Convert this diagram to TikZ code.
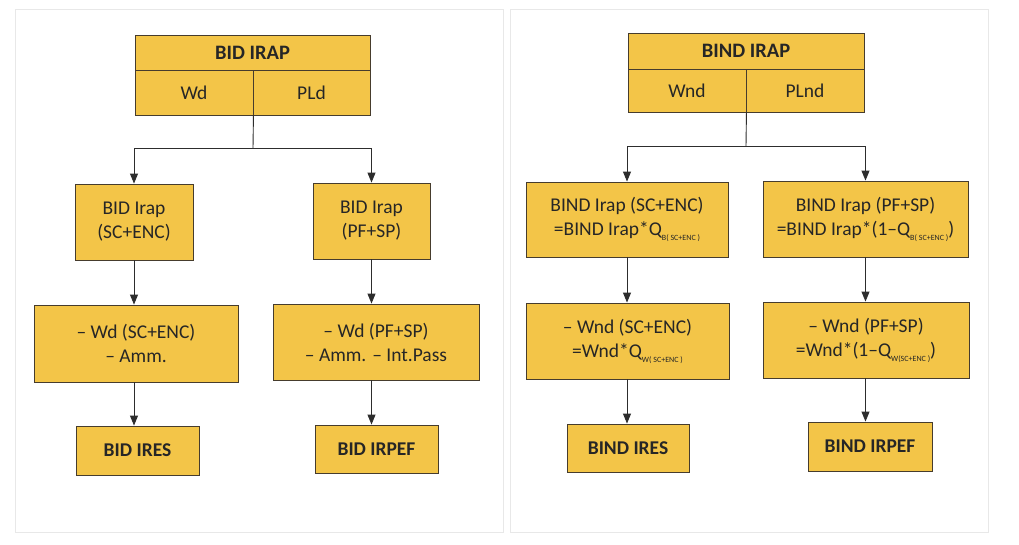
\documentclass[tikz,border=0pt]{standalone}
\usepackage{fontspec}
\setmainfont{Carlito}
\usetikzlibrary{arrows.meta}
\definecolor{boxfill}{RGB}{243,197,72}
\definecolor{boxline}{RGB}{70,60,45}
\definecolor{linec}{RGB}{45,45,45}
\definecolor{panel}{RGB}{232,232,232}
\newcommand{\subq}[1]{\raisebox{-5pt}{\fontsize{8}{8}\selectfont #1}}
\tikzset{
  bx/.style={draw=boxline, fill=boxfill, line width=0.9pt, align=center, inner sep=0pt,
    font=\fontsize{19.5}{24}\selectfont, text=black!85},
  arr/.style={draw=linec, line width=0.9pt, -{Triangle[width=8pt,length=10pt]}},
  ln/.style={draw=linec, line width=0.9pt},
}
\newcommand{\bxn}[6]{% name, x1,y1,x2,y2, text
  \node[bx, minimum width={(#4)-(#2)}, minimum height={(#5)-(#3)}] (#1) at ({((#2)+(#4))/2},{((#3)+(#5))/2}) {#6};}
\begin{document}
\begin{tikzpicture}[x=1pt,y=-1pt]
\useasboundingbox (0,0) rectangle (1019,544);
\fill[white] (0,0) rectangle (1019,544);
% faint panels
\draw[panel, line width=0.8pt] (15,9) rectangle (503,532);
\draw[panel, line width=0.8pt] (510,9) rectangle (988,532);

% ---------- left ----------
\bxn{lt}{135}{35}{370}{70}{\bfseries\fontsize{20.5}{24}\selectfont BID IRAP}
\bxn{lw}{135}{70}{253}{115}{Wd}
\bxn{lp}{253}{70}{370}{115}{PLd}
\bxn{la}{75}{184}{193}{260}{BID Irap\\(SC+ENC)}
\bxn{lb}{313}{183}{430}{259}{BID Irap\\(PF+SP)}
\bxn{lc}{34}{305}{238}{382}{– Wd (SC+ENC)\\– Amm.}
\bxn{ld}{273}{304}{479}{380}{– Wd (PF+SP)\\– Amm. – Int.Pass}
\bxn{le}{76}{426}{199}{475}{\bfseries BID IRES}
\bxn{lf}{315}{425}{438}{473}{\bfseries BID IRPEF}
\coordinate (lj) at (253,148);
\draw[ln] (lw.south east) -- (lj);
\draw[arr] (lj) -| (la.north);
\draw[arr] (lj) -| (lb.north);
\draw[arr] (la.south) -- (la.south |- lc.north);
\draw[arr] (lb.south) -- (lb.south |- ld.north);
\draw[arr] (la.south |- lc.south) -- (la.south |- le.north);
\draw[arr] (lb.south |- ld.south) -- (lb.south |- lf.north);

% ---------- right ----------
\bxn{rt}{628}{33}{864}{69}{\bfseries\fontsize{20.5}{24}\selectfont BIND IRAP}
\bxn{rw}{628}{69}{746}{112}{Wnd}
\bxn{rp}{746}{69}{864}{112}{PLnd}
\bxn{ra}{526}{182}{728}{257}{BIND Irap (SC+ENC)\\=BIND Irap*Q\subq{B( SC+ENC )}}
\bxn{rb}{763}{181}{968}{257}{BIND Irap (PF+SP)\\=BIND Irap*(1–Q\subq{B( SC+ENC )})}
\bxn{rc}{526}{303}{729}{379}{– Wnd (SC+ENC)\\=Wnd*Q\subq{W( SC+ENC )}}
\bxn{rd}{763}{302}{969}{378}{– Wnd (PF+SP)\\=Wnd*(1–Q\subq{W(SC+ENC )})}
\bxn{re}{567}{424}{689}{472}{\bfseries BIND IRES}
\bxn{rf}{808}{422}{932}{471}{\bfseries BIND IRPEF}
\coordinate (rj) at (746,146);
\draw[ln] (rw.south east) -- (rj);
\draw[arr] (rj) -| (ra.north);
\draw[arr] (rj) -| (rb.north);
\draw[arr] (ra.south) -- (ra.south |- rc.north);
\draw[arr] (rb.south) -- (rb.south |- rd.north);
\draw[arr] (ra.south |- rc.south) -- (ra.south |- re.north);
\draw[arr] (rb.south |- rd.south) -- (rb.south |- rf.north);
\end{tikzpicture}
\end{document}
